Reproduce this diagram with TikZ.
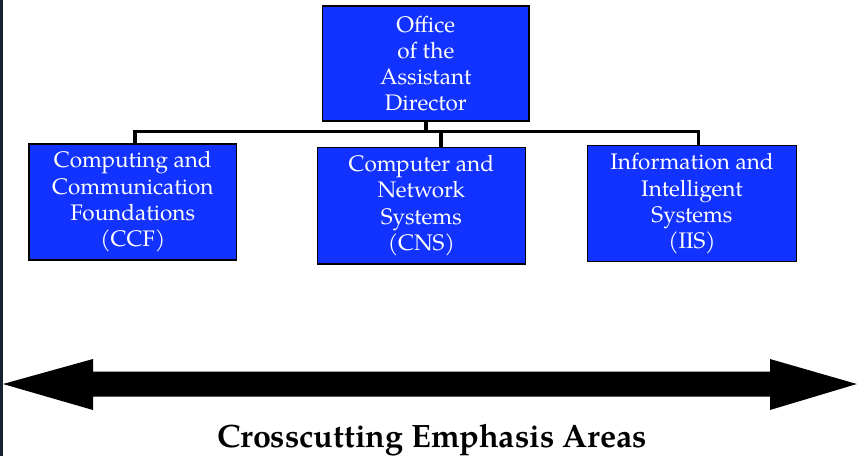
\documentclass[tikz,border=0pt]{standalone}
\usepackage{fontspec}
\setmainfont{TeX Gyre Pagella}
\usetikzlibrary{calc}
\definecolor{boxblue}{RGB}{18,50,255}
\definecolor{stripdark}{RGB}{22,34,52}
\tikzset{
  orgbox/.style={draw=black, line width=1.5pt, fill=boxblue, text=white,
    align=center, inner sep=0pt,
    font=\fontsize{22.5}{26.3}\selectfont},
  wire/.style={line width=3.7pt, black, line join=miter},
}
\begin{document}
\begin{tikzpicture}[x=1pt,y=-1pt]
\useasboundingbox (0,0) rectangle (857,456);
\fill[stripdark] (0,0) rectangle (2.5,456);
% boxes
\node[orgbox, minimum width=206.3pt, minimum height=115pt] (top) at (425.8,63.5)
  {Office\\of the\\Assistant\\Director};
\node[orgbox, minimum width=207.7pt, minimum height=116pt] (ccf) at (132.8,202)
  {Computing and\\Communication\hspace*{10pt}\\Foundations\\(CCF)};
\node[orgbox, minimum width=208pt, minimum height=116.7pt] (cns) at (421.3,205.7)
  {Computer and\\Network\\Systems\hspace*{8pt}\\(CNS)};
\node[orgbox, minimum width=209.4pt, minimum height=116pt] (iis) at (692,203.7)
  {Information and\\Intelligent\\Systems\hspace*{10pt}\\(IIS)};
% connectors
\coordinate (bl) at (135,131.5);
\coordinate (br) at (698.5,131.5);
\coordinate (bm) at (441,131.5);
\draw[wire] (bl |- ccf.north) -- (bl) -- (br) -- (br |- iis.north);
\draw[wire] (top.south) -- (top.south |- bl);
\draw[wire] (bm) -- (bm |- cns.north);
% double arrow
\coordinate (ltip) at (3,384);
\coordinate (rtip) at (856.8,384);
\fill[black] (ltip) -- (93,359) -- (93,371.7) -- (770,371.7) -- (770,359)
  -- (rtip) -- (770,410) -- (770,396.7) -- (93,396.7) -- (93,410) -- cycle;
\node[font=\fontsize{32.3}{36}\selectfont\bfseries, anchor=base, inner sep=0pt] (cap) at (432,447)
  {Crosscutting Emphasis Areas};
\end{tikzpicture}
\end{document}
